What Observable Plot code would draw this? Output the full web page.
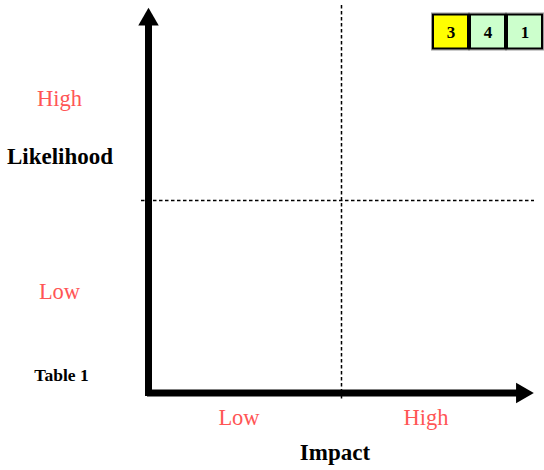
<!DOCTYPE html>
<html>
<head>
<meta charset="utf-8">
<script src="https://cdn.jsdelivr.net/npm/d3@7"></script>
<script src="https://cdn.jsdelivr.net/npm/@observablehq/plot@0.6"></script>
<style>
  html, body { margin: 0; padding: 0; background: #fff; }
  #wrap { position: relative; width: 544px; height: 470px; }
  #wrap svg { position: absolute; top: 0; left: 0; background: transparent; }
</style>
</head>
<body>
<div id="wrap"></div>
<script>
// ---- data ----
const impactLevels = ["Low", "High"];
const likelihoodLevels = ["Low", "High"];
const levelCenters = [0.5, 1.5];       // quadrant centres on each axis
const axisExtent = [0, 2];
const midpoint = 1;
const boxKeys = ["a", "b", "c"];
const boxValues = [3, 4, 1];
const boxFills = ["#ffff00", "#ccffcc", "#ccffcc"];

const serif = "'Liberation Serif', 'Times New Roman', serif";
const red = "#ff5555";

const impactLabels = impactLevels.map((t, i) => ({label: t, x: levelCenters[i]}));
const likelihoodLabels = likelihoodLevels.map((t, i) => ({label: t, y: levelCenters[i]}));

const main = Plot.plot({
  width: 544,
  height: 470,
  marginLeft: 148,
  marginRight: 10,
  marginTop: 7.5,
  marginBottom: 77.5,
  style: {fontFamily: serif, background: "#fff", overflow: "visible"},
  x: {domain: axisExtent, axis: null},
  y: {domain: axisExtent, axis: null},
  marks: [
    // dashed quadrant dividers
    Plot.ruleY([midpoint], {x1: axisExtent[0], x2: axisExtent[1], stroke: "#000", strokeWidth: 1.5, strokeDasharray: "3.5,2.5", insetLeft: -7}),
    Plot.ruleX([midpoint], {y1: axisExtent[1], y2: axisExtent[0], stroke: "#000", strokeWidth: 1.5, strokeDasharray: "3.5,2.5", insetTop: -2.5, insetBottom: -8}),
    // thick axes
    Plot.ruleX([axisExtent[0]], {y1: axisExtent[1], y2: axisExtent[0], stroke: "#000", strokeWidth: 7, insetTop: 12, insetBottom: -3.5}),
    Plot.ruleY([axisExtent[0]], {x1: axisExtent[0], x2: axisExtent[1], stroke: "#000", strokeWidth: 7, insetLeft: -1, insetRight: 14}),
    // arrow heads
    Plot.dot([{x: axisExtent[0], y: axisExtent[1]}], {x: "x", y: "y", symbol: "triangle", r: 7.6, fill: "#000", stroke: null, dy: 11.5}),
    Plot.dot([{x: axisExtent[1], y: axisExtent[0]}], {x: "x", y: "y", symbol: "triangle", r: 7.6, fill: "#000", stroke: null, rotate: 90, dx: -12.5}),
    // likelihood level labels
    Plot.text(likelihoodLabels, {y: "y", text: "label", frameAnchor: "left", textAnchor: "middle", dx: -89, dy: -5, fill: red, fontSize: 22.5, lineAnchor: "middle"}),
    // impact level labels
    Plot.text(impactLabels.slice(0, 1), {x: "x", text: "label", frameAnchor: "bottom", textAnchor: "middle", dx: -6, dy: 25, fill: red, fontSize: 22.5, lineAnchor: "middle"}),
    Plot.text(impactLabels.slice(1), {x: "x", text: "label", frameAnchor: "bottom", textAnchor: "middle", dx: -12, dy: 25, fill: red, fontSize: 22.5, lineAnchor: "middle"}),
    // axis titles
    Plot.text(["Likelihood"], {frameAnchor: "top-left", textAnchor: "middle", lineAnchor: "middle", dx: -88.5, dy: 149, fontWeight: "bold", fontSize: 23, fill: "#000"}),
    Plot.text(["Impact"], {frameAnchor: "bottom", textAnchor: "middle", lineAnchor: "middle", dx: -6.5, dy: 60, fontWeight: "bold", fontSize: 23, fill: "#000"}),
    Plot.text(["Table 1"], {frameAnchor: "bottom-left", textAnchor: "middle", lineAnchor: "middle", dx: -87, dy: -18, fontWeight: "bold", fontSize: 17.5, fill: "#000"})
  ]
});

const boxes = boxKeys.map((k, i) => ({key: k, value: boxValues[i], fill: boxFills[i]}));

const legend = Plot.plot({
  width: 544,
  height: 50,
  marginLeft: 431.5,
  marginRight: 1.5,
  marginTop: 14.5,
  marginBottom: 1.5,
  style: {fontFamily: serif, background: "transparent", overflow: "visible"},
  x: {type: "band", domain: boxKeys, paddingInner: 0.06, paddingOuter: 0, axis: null},
  marks: [
    Plot.cell(boxes, {x: "key", fill: "none", stroke: "#9a9a9a", strokeWidth: 1, inset: -1.5}),
    Plot.cell(boxes, {x: "key", fill: "fill", stroke: "#000", strokeWidth: 2, inset: 0}),
    Plot.text(boxes, {x: "key", text: d => String(d.value), frameAnchor: "middle", fontWeight: "bold", fontSize: 17, fill: "#000", dy: 1})
  ]
});

const wrap = document.getElementById("wrap");
wrap.appendChild(main);
wrap.appendChild(legend);
</script>
</body>
</html>
